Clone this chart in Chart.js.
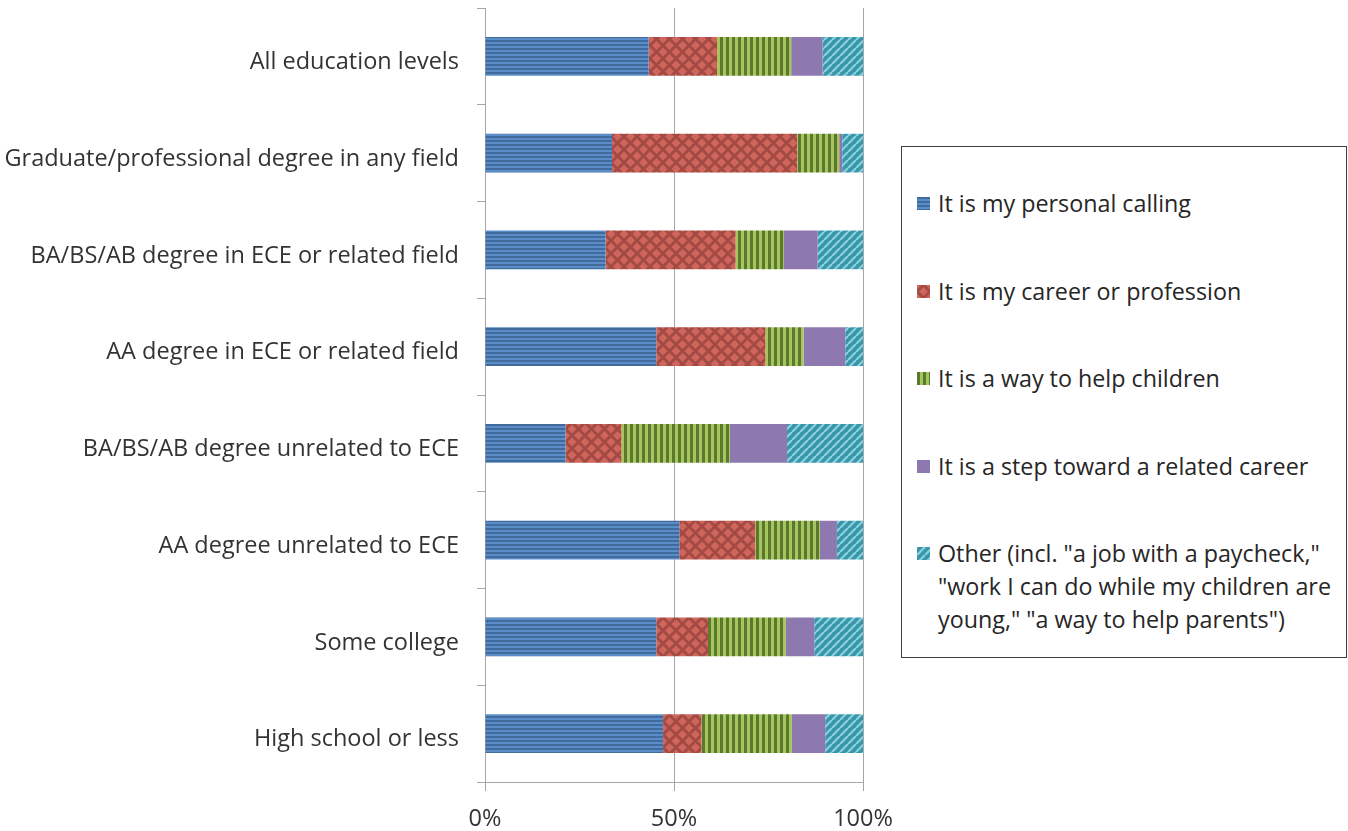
<!DOCTYPE html>
<html>
<head>
<meta charset="utf-8">
<script src="https://cdn.jsdelivr.net/npm/chart.js@4.4.1/dist/chart.umd.min.js"></script>
<style>
  body { margin: 0; background: #fff; width: 1348px; height: 831px; overflow: hidden; font-family: "Open Sans", sans-serif; }
  #chartBox { position: absolute; left: 0; top: 0; }
  #legend { position: absolute; left: 901px; top: 146px; width: 446px; height: 512px; border: 1px solid #404040; box-sizing: border-box; }
  .item { position: absolute; left: 15px; font-size: 23.3px; line-height: 33px; color: #262626; white-space: nowrap; }
  .item canvas { position: absolute; left: 0; top: 10px; }
  .item span { display: block; margin-left: 21px; }
</style>
</head>
<body>
<div id="chartBox"><canvas id="myChart" width="900" height="831"></canvas></div>
<div id="legend"></div>
<script>
const categories = [
    'All education levels',
    'Graduate/professional degree in any field',
    'BA/BS/AB degree in ECE or related field',
    'AA degree in ECE or related field',
    'BA/BS/AB degree unrelated to ECE',
    'AA degree unrelated to ECE',
    'Some college',
    'High school or less'
];

// percent of respondents per reason
const personalCalling = [43.3, 33.6, 31.9, 45.3, 21.3, 51.4, 45.3, 47.1];
const careerProfession = [18.1, 49.0, 34.4, 28.9, 14.8, 20.1, 13.7, 10.2];
const helpChildren = [19.6, 11.1, 12.8, 10.1, 28.7, 17.1, 20.6, 23.9];
const stepToward = [8.3, 0.8, 8.9, 11.0, 15.1, 4.5, 7.5, 8.8];
const otherReasons = [10.7, 5.5, 12.0, 4.7, 20.1, 6.9, 12.9, 10.0];

const seriesNames = [
    'It is my personal calling',
    'It is my career or profession',
    'It is a way to help children',
    'It is a step toward a related career',
    'Other (incl. "a job with a paycheck,"\n"work I can do while my children are\nyoung," "a way to help parents")'
];

const xTicks = [0, 50, 100];

function makeTile(w, h, draw) {
    const c = document.createElement('canvas');
    c.width = w;
    c.height = h;
    draw(c.getContext('2d'), w, h);
    return c;
}

const tiles = [
    // horizontal stripes
    makeTile(4, 4, (g) => {
        g.fillStyle = '#5b8dc8'; g.fillRect(0, 0, 4, 4);
        g.fillStyle = '#416b9c'; g.fillRect(0, 0, 4, 2);
    }),
    // diamonds
    makeTile(13, 13, (g) => {
        g.fillStyle = '#a24b44'; g.fillRect(0, 0, 13, 13);
        g.fillStyle = '#d0655c';
        const diamond = (cx, cy) => {
            g.beginPath();
            g.moveTo(cx, cy - 4.5); g.lineTo(cx + 4.5, cy); g.lineTo(cx, cy + 4.5); g.lineTo(cx - 4.5, cy);
            g.closePath(); g.fill();
        };
        diamond(6.5, 6.5);
        diamond(0, 0); diamond(13, 0); diamond(0, 13); diamond(13, 13);
    }),
    // vertical stripes
    makeTile(6, 6, (g) => {
        g.fillStyle = '#a6c55c'; g.fillRect(0, 0, 6, 6);
        g.fillStyle = '#5b792e'; g.fillRect(0, 0, 3, 6);
    }),
    // solid
    makeTile(4, 4, (g) => {
        g.fillStyle = '#8e78b0'; g.fillRect(0, 0, 4, 4);
    }),
    // diagonal stripes
    makeTile(8, 8, (g) => {
        g.fillStyle = '#3797aa'; g.fillRect(0, 0, 8, 8);
        g.strokeStyle = '#8ccfdc';
        g.lineWidth = 2.2;
        [[-8, 8], [0, 8], [8, 8]].forEach(([x0, y0]) => {
            g.beginPath(); g.moveTo(x0, y0); g.lineTo(x0 + 8, y0 - 8); g.stroke();
        });
    })
];

var ctx = document.getElementById('myChart').getContext('2d');
const patterns = tiles.map(t => ctx.createPattern(t, 'repeat'));
const seriesData = [personalCalling, careerProfession, helpChildren, stepToward, otherReasons];

const labelFont = { family: 'Open Sans', size: 23.5 };

var chart = new Chart(ctx, {
    type: 'bar',
    data: {
        labels: categories,
        datasets: seriesData.map((d, i) => ({
            label: seriesNames[i],
            data: d,
            backgroundColor: patterns[i],
            borderWidth: 0,
            categoryPercentage: 1,
            barPercentage: 0.4
        }))
    },
    options: {
        indexAxis: 'y',
        responsive: false,
        animation: false,
        layout: { padding: { top: 8, right: 37, left: 0, bottom: 0 } },
        plugins: {
            legend: { display: false },
            tooltip: { enabled: false }
        },
        scales: {
            x: {
                stacked: true,
                min: 0,
                max: 100,
                afterBuildTicks: (scale) => { scale.ticks = xTicks.map(v => ({ value: v })); },
                ticks: {
                    callback: (value) => value + '%',
                    font: labelFont,
                    color: '#333',
                    padding: 14
                },
                grid: { color: '#a6a6a6', tickLength: 9 },
                border: { color: '#a6a6a6' },
                afterFit: (scale) => {
                    scale.height = 49;
                    scale.paddingLeft = 0;
                    scale.paddingRight = 0;
                }
            },
            y: {
                stacked: true,
                grid: { drawOnChartArea: false, offset: true, tickLength: 8, color: '#a6a6a6' },
                border: { color: '#a6a6a6' },
                ticks: {
                    font: labelFont,
                    color: '#333',
                    padding: 18,
                    labelOffset: 6
                },
                afterFit: (scale) => {
                    scale.width = 485;
                    scale.paddingTop = 0;
                    scale.paddingBottom = 0;
                }
            }
        }
    }
});

// legend box on the right
const legend = document.getElementById('legend');
const itemTops = [40, 128, 215, 303, 390];
seriesNames.forEach((name, i) => {
    const item = document.createElement('div');
    item.className = 'item';
    item.style.top = itemTops[i] + 'px';
    const sw = document.createElement('canvas');
    sw.width = 13;
    sw.height = 13;
    const sctx = sw.getContext('2d');
    sctx.fillStyle = sctx.createPattern(tiles[i], 'repeat');
    sctx.fillRect(0, 0, 13, 13);
    item.appendChild(sw);
    const text = document.createElement('span');
    text.textContent = name;
    text.innerHTML = text.innerHTML.split('\n').join('<br>');
    item.appendChild(text);
    legend.appendChild(item);
});
</script>
</body>
</html>
